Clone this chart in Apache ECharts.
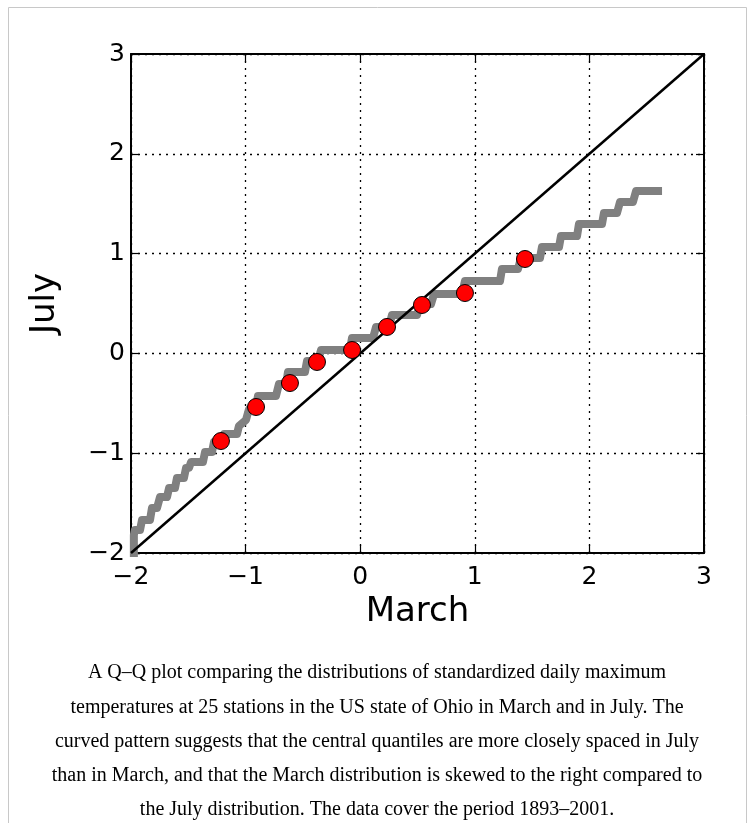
<!DOCTYPE html>
<html><head><meta charset="utf-8">
<script src="https://cdn.jsdelivr.net/npm/echarts@6/dist/echarts.min.js"></script>
<style>html,body{margin:0;padding:0;background:#fff}#c{width:754px;height:823px}</style>
</head><body><div id="c"></div>
<script>
// Quantile staircase (March vs July)
const stairMarch = [-1.975,-1.975,-1.966,-1.921,-1.904,-1.834,-1.817,-1.773,-1.747,-1.686,-1.668,-1.616,-1.599,-1.538,-1.520,-1.494,-1.476,-1.372,-1.354,-1.293,-1.276,-1.206,-1.188,-1.075,-1.058,-0.997,-0.970,-0.909,-0.892,-0.735,-0.709,-0.647,-0.630,-0.482,-0.464,-0.368,-0.342,-0.089,-0.072,0.112,0.138,0.251,0.277,0.496,0.522,0.618,0.644,0.888,0.914,1.220,1.237,1.377,1.403,1.569,1.586,1.735,1.752,1.892,1.909,2.110,2.127,2.241,2.267,2.380,2.407,2.599];
const stairJuly = [-2.030,-1.820,-1.770,-1.770,-1.669,-1.669,-1.549,-1.549,-1.439,-1.439,-1.349,-1.349,-1.248,-1.248,-1.148,-1.148,-1.088,-1.088,-0.988,-0.988,-0.888,-0.888,-0.808,-0.808,-0.727,-0.667,-0.557,-0.537,-0.427,-0.427,-0.307,-0.307,-0.186,-0.186,-0.076,-0.076,0.034,0.034,0.154,0.154,0.265,0.265,0.385,0.385,0.495,0.495,0.595,0.595,0.725,0.725,0.846,0.846,0.956,0.956,1.066,1.066,1.176,1.176,1.297,1.297,1.407,1.407,1.517,1.517,1.627,1.627];
// Decile markers
const decileMarch = [-1.215,-0.909,-0.613,-0.377,-0.071,0.234,0.539,0.914,1.438];
const decileJuly = [-0.878,-0.537,-0.297,-0.086,0.034,0.265,0.485,0.605,0.946];
// y = x reference line end points
const refEnds = [-2, 3];
const axisMin = -2, axisMax = 3, tickStep = 1;
const xName = 'March', yName = 'July';
const captionLines = [
  'A Q\u2013Q plot comparing the distributions of standardized daily maximum',
  'temperatures at 25 stations in the US state of Ohio in March and in July. The',
  'curved pattern suggests that the central quantiles are more closely spaced in July',
  'than in March, and that the March distribution is skewed to the right compared to',
  'the July distribution. The data cover the period 1893\u20132001.'
];

const chart = echarts.init(document.getElementById('c'), null, {renderer: 'canvas'});
const font = 'DejaVu Sans';
const fmt = v => String(v).replace('-', '\u2212');
const baseAxis = {
  type: 'value', min: axisMin, max: axisMax, interval: tickStep,
  axisLine: {show: true, onZero: false, lineStyle: {color: '#000', width: 2}},
  axisTick: {show: true, inside: true, length: 8, lineStyle: {color: '#000', width: 1.2}},
  splitLine: {show: false}
};
const grid = {left: 131, top: 54, width: 573, height: 499};
const stairData = stairMarch.map((x, i) => [x, stairJuly[i]]);
const decData = decileMarch.map((x, i) => [x, decileJuly[i]]);

chart.setOption({
  animation: false,
  backgroundColor: '#fff',
  grid: grid,
  xAxis: [
    Object.assign({}, baseAxis, {
      position: 'bottom',
      name: xName, nameLocation: 'middle', nameGap: 42,
      nameTextStyle: {fontFamily: font, fontSize: 34, color: '#000'},
      axisLabel: {fontFamily: font, fontSize: 25, color: '#000', margin: 12, formatter: fmt},
      splitLine: {show: true, lineStyle: {color: '#000', width: 1.3, type: [2, 5]}}
    }),
    Object.assign({}, baseAxis, {position: 'top', axisLabel: {show: false}})
  ],
  yAxis: [
    Object.assign({}, baseAxis, {
      position: 'left',
      name: yName, nameLocation: 'middle', nameGap: 69, nameRotate: 90,
      nameTextStyle: {fontFamily: font, fontSize: 34, color: '#000'},
      axisLabel: {fontFamily: font, fontSize: 25, color: '#000', margin: 6, formatter: fmt},
      splitLine: {show: true, lineStyle: {color: '#000', width: 1.3, type: [2, 5]}}
    }),
    Object.assign({}, baseAxis, {position: 'right', axisLabel: {show: false}})
  ],
  series: [
    {
      type: 'line', data: stairData, showSymbol: false, symbol: 'none',
      lineStyle: {color: '#808080', width: 8, cap: 'square', join: 'round'},
      clip: true, z: 2
    },
    {
      type: 'line', data: refEnds.map(v => [v, v]), showSymbol: false, symbol: 'none',
      lineStyle: {color: '#000', width: 2.5}, z: 3
    },
    {
      type: 'scatter', data: decData, symbol: 'circle', symbolSize: 17,
      itemStyle: {color: '#ff0000', borderColor: '#000', borderWidth: 1, opacity: 1}, z: 4
    }
  ],
  graphic: [
    {type: 'polyline', shape: {points: [[8.5, 823], [8.5, 7.5], [746.5, 7.5], [746.5, 823]]},
     style: {stroke: '#c8c8c8', lineWidth: 1, fill: null}, silent: true}
  ].concat(captionLines.map((t, i) => ({
    type: 'text', x: 377, y: 673 + i * 34.3,
    style: {text: t, font: '20px "Liberation Serif"', fill: '#000', align: 'center', verticalAlign: 'middle'},
    silent: true
  })))
});
</script></body></html>
